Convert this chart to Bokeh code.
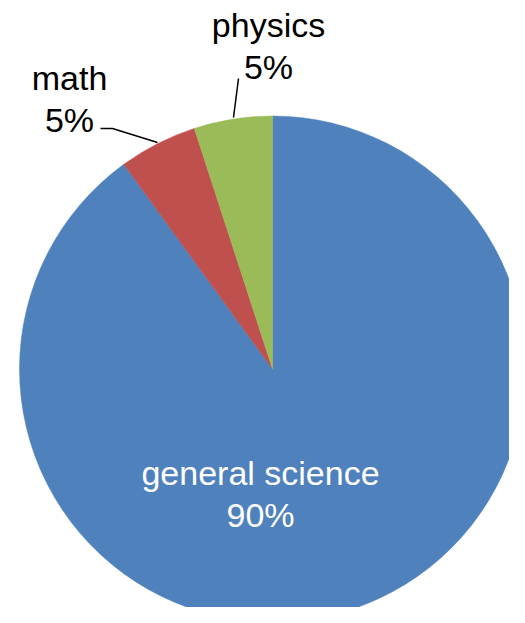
import math
from bokeh.plotting import figure
from bokeh.models import ColumnDataSource
from bokeh.core.properties import value
from bokeh.embed import file_html
from bokeh.resources import INLINE

# ---- data ----
categories = ["general science", "math", "physics"]
percents = [90, 5, 5]
colors = ["#4F81BD", "#C0504D", "#9BBB59"]
pct_labels = ["90%", "5%", "5%"]

# ---- layout (screen px) ----
W, H = 509, 607
cx, cy, R = 272, -368.5, 253

total = sum(percents)
starts, ends = [], []
cum = 0.0
for v in percents:
    starts.append(math.pi / 2 - 2 * math.pi * cum / total)
    cum += v
    ends.append(math.pi / 2 - 2 * math.pi * cum / total)

src = ColumnDataSource(dict(cat=categories, val=percents, color=colors,
                            start=starts, end=ends))

p = figure(width=W, height=H, x_range=(0, W), y_range=(-H, 0),
           output_backend="svg", toolbar_location=None,
           x_axis_location=None, y_axis_location=None, min_border=0)
p.grid.visible = False
p.outline_line_color = None
p.background_fill_color = "white"
p.border_fill_color = "white"

p.wedge(x=cx, y=cy, radius=R, start_angle="start", end_angle="end",
        direction="clock", fill_color="color", line_color="color",
        line_width=0.5, source=src)

# leader lines
p.line(x=[100, 112, 157], y=[-128, -128, -142],
       line_color="black", line_width=1.5)
p.line(x=[238, 233], y=[-78, -117],
       line_color="black", line_width=1.5)

FS = "34px"
FONT = value("Liberation Sans")
SHIFT = 12
# label positions: (center x, baseline line1, baseline line2, colour)
label_pos = [(260, 484, 526, "white"), (69, 89, 131, "black"), (268, 36, 78, "black")]
for cat, pl, (lx, b1, b2, col) in zip(categories, pct_labels, label_pos):
    p.text(x=[lx], y=[-(b1 - SHIFT)], text=[cat], text_font=FONT,
           text_font_size=FS, text_color=col, text_align="center",
           text_baseline="alphabetic")
    p.text(x=[lx], y=[-(b2 - SHIFT)], text=[pl], text_font=FONT,
           text_font_size=FS, text_color=col, text_align="center",
           text_baseline="alphabetic")

open("out.html", "w").write(file_html(p, INLINE))
